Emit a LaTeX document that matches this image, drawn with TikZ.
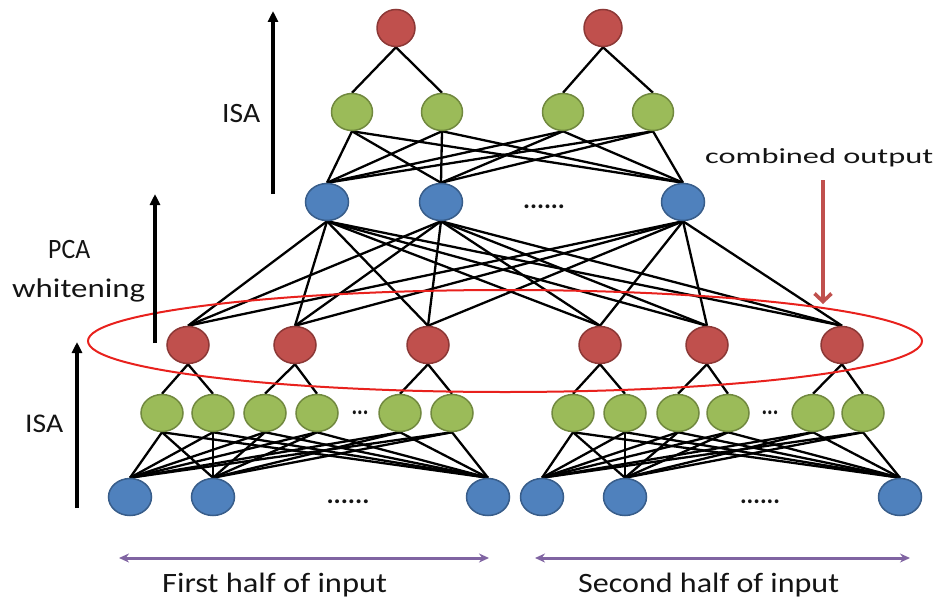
\documentclass[tikz,border=0pt]{standalone}
\usepackage{fontspec}
\setmainfont{Carlito}
\usepackage{graphicx}
\usetikzlibrary{shapes.geometric,arrows.meta}
\definecolor{nred}{HTML}{C0504D}
\definecolor{nredd}{HTML}{8C3836}
\definecolor{ngreen}{HTML}{9BBB59}
\definecolor{ngreend}{HTML}{71893F}
\definecolor{nblue}{HTML}{4F81BD}
\definecolor{nblued}{HTML}{385D8A}
\definecolor{arrpurple}{HTML}{8064A2}
\definecolor{ellred}{HTML}{E8211D}
\pgfdeclarelayer{bg}
\pgfsetlayers{bg,main}
\newcommand\fitlbl[3]{\resizebox{#1}{\height}{\fontsize{#2}{#2}\selectfont #3}}
\begin{document}
\begin{tikzpicture}[x=1pt,y=-1pt,
  unit/.style={ellipse, inner sep=0pt, line width=1.5pt, minimum width=42pt, minimum height=37pt},
  rednode/.style={unit, fill=nred, draw=nredd},
  greennode/.style={unit, fill=ngreen, draw=ngreend},
  bluenode/.style={unit, fill=nblue, draw=nblued, minimum width=43pt},
  link/.style={line width=2.3pt, black},
  lbl/.style={inner sep=0pt, anchor=base west, text=black!92},
  dots/.style={inner sep=0pt, text=black!92},
  uparrow/.style={line width=3.6pt, -{Triangle[length=11pt,width=10pt]}},
  spanarrow/.style={line width=3pt, arrpurple, {Stealth[length=10pt,width=9pt]}-{Stealth[length=10pt,width=9pt]}},
  pointer/.style={line width=3.6pt, nred, -{Straight Barb[length=8pt,width=17pt]}}
]
\useasboundingbox (0,0) rectangle (936,599);

% top layer
\node[rednode, minimum width=38pt] (t1) at (396,28) {};
\node[rednode, minimum width=38pt] (t2) at (603,28) {};
\node[greennode, minimum width=41pt] (tg1) at (352,112) {};
\node[greennode, minimum width=41pt] (tg2) at (442,112) {};
\node[greennode, minimum width=41pt] (tg3) at (563,112) {};
\node[greennode, minimum width=41pt] (tg4) at (653,112) {};
\node[bluenode] (tb1) at (327,202) {};
\node[bluenode] (tb2) at (441,202) {};
\node[bluenode] (tb3) at (683,202) {};
\node[dots] (dtb) at (544,207) {\fitlbl{42pt}{26pt}{\textbf{......}}};

% middle red
\foreach \n/\x in {1/188,2/295,3/428,4/600,5/707,6/842}
  \node[rednode] (m\n) at (\x,345) {};

% lower green
\foreach \n/\x in {1/162,2/213,3/265,4/317,5/400,6/452,7/573,8/625,9/678,10/728,11/813,12/863}
  \node[greennode] (g\n) at (\x,413) {};
\node[dots] (dg1) at (360,413) {\fitlbl{17pt}{26pt}{\textbf{...}}};
\node[dots] (dg2) at (770,413) {\fitlbl{17pt}{26pt}{\textbf{...}}};

% bottom blue
\foreach \n/\x in {1/130,2/213,3/488,4/542,5/625,6/900}
  \node[bluenode] (b\n) at (\x,497) {};
\node[dots] (db1) at (348,502) {\fitlbl{43pt}{26pt}{\textbf{......}}};
\node[dots] (db2) at (760,502) {\fitlbl{40pt}{26pt}{\textbf{......}}};

\begin{pgfonlayer}{bg}
  \foreach \a/\b in {t1/tg1,t1/tg2,t2/tg3,t2/tg4}
    \draw[link] (\a.south) -- (\b.north);
  \foreach \i in {1,...,4}
    \foreach \j in {1,2,3}
      \draw[link] (tg\i.south) -- (tb\j.north);
  \foreach \i in {1,2,3}
    \foreach \j in {1,...,6}
      \draw[link] (tb\i.south) -- (m\j.north);
  \foreach \i in {1,...,6}{
    \pgfmathtruncatemacro\ka{2*\i-1}
    \pgfmathtruncatemacro\kb{2*\i}
    \draw[link] (m\i.south) -- (g\ka.north);
    \draw[link] (m\i.south) -- (g\kb.north);
  }
  \foreach \i in {1,...,6}
    \foreach \j in {1,2,3}
      \draw[link] (g\i.south) -- (b\j.north);
  \foreach \i in {7,...,12}
    \foreach \j in {4,5,6}
      \draw[link] (g\i.south) -- (b\j.north);
  \draw[ellred, line width=2pt] (505,341) ellipse [x radius=417pt, y radius=51pt];
\end{pgfonlayer}

% left arrows and labels
\coordinate (a1s) at (273,194);
\coordinate (a1e) at (273,11);
\coordinate (a2s) at (155,343);
\coordinate (a2e) at (155,194);
\coordinate (a3s) at (77,508);
\coordinate (a3e) at (77,342);
\draw[uparrow] (a1s) -- (a1e);
\draw[uparrow] (a2s) -- (a2e);
\draw[uparrow] (a3s) -- (a3e);
\node[lbl] (isa1) at (222,123) {\fitlbl{38pt}{28pt}{ISA}};
\node[lbl] (pca) at (48,258) {\fitlbl{42pt}{28pt}{PCA}};
\node[lbl] (wht) at (12,297) {\fitlbl{133pt}{27pt}{whitening}};
\node[lbl] (isa2) at (25,432) {\fitlbl{38pt}{27pt}{ISA}};

% combined output
\node[lbl] (comb) at (705,163) {\fitlbl{228pt}{21.5pt}{combined output}};
\coordinate (ps) at (823,180);
\coordinate (pe) at (823,304);
\draw[pointer] (ps) -- (pe);

% input spans
\coordinate (h1l) at (119,558);
\coordinate (h1r) at (489,558);
\coordinate (h2l) at (535,558);
\coordinate (h2r) at (910,558);
\draw[spanarrow] (h1l) -- (h1r);
\draw[spanarrow] (h2l) -- (h2r);
\node[lbl] (first) at (162,592) {\fitlbl{225pt}{28pt}{First half of input}};
\node[lbl] (second) at (578,592) {\fitlbl{261pt}{28pt}{Second half of input}};
\end{tikzpicture}
\end{document}
